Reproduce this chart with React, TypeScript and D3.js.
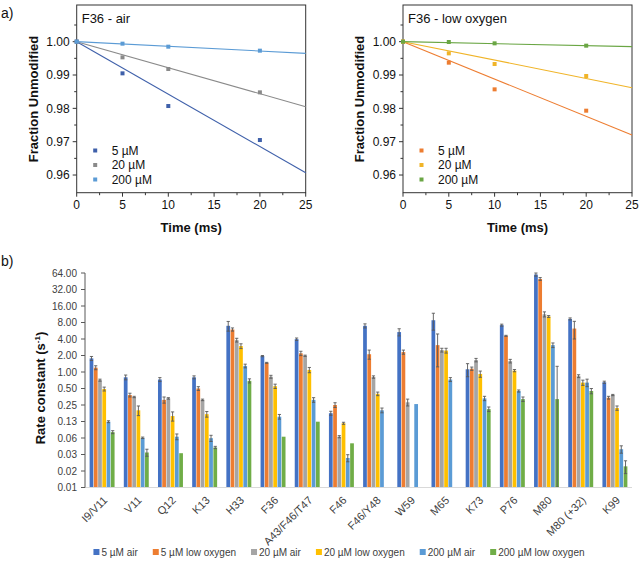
import React, { useEffect, useRef } from 'react';
import * as d3 from 'd3';

// ---- panel a data (fraction unmodified vs time) ----
const timeMs = [0, 5, 10, 20];
const concLabels = ['5 µM', '20 µM', '200 µM'];

const air5 = [1.0, 0.9905, 0.9807, 0.9705];
const air20 = [1.0, 0.9953, 0.9918, 0.9848];
const air200 = [1.0, 0.9994, 0.9985, 0.9973];
const airFitAt25 = [0.9607, 0.9805, 0.9965];

const low5 = [1.0, 0.9937, 0.9857, 0.9793];
const low20 = [1.0, 0.9965, 0.9933, 0.9897];
const low200 = [1.0, 0.9999, 0.9995, 0.9988];
const lowFitAt25 = [0.972, 0.9862, 0.9985];

const airColors = ['#3f60aa', '#8a8a8a', '#5b9bd5'];
const lowColors = ['#ed7d31', '#f0b428', '#6aa644'];

const fracTicks = [0.96, 0.97, 0.98, 0.99, 1.0];
const fracMinor = [0.965, 0.975, 0.985, 0.995, 1.005];
const timeTicks = [0, 5, 10, 15, 20, 25];
const timeMinor = [2.5, 7.5, 12.5, 17.5, 22.5];

// ---- panel b data (rate constants, s^-1) ----
const residues = ['I9/V11', 'V11', 'Q12', 'K13', 'H33', 'F36', 'A43/F46/T47', 'F46', 'F46/Y48', 'W59', 'M65', 'K73', 'P76', 'M80', 'M80 (+32)', 'K99'];
const seriesNames = ['5 µM air', '5 µM low oxygen', '20 µM air', '20 µM low oxygen', '200 µM air', '200 µM low oxygen'];
const barColors = ['#4472c4', '#ed7d31', '#a5a5a5', '#ffc000', '#5b9bd5', '#70ad47'];

const air5k = [1.77, 0.80, 0.73, 0.80, 6.96, 1.95, 3.97, 0.177, 6.96, 5.35, 8.8, 1.12, 7.16, 60, 9.3, 0.65];
const low5k = [1.2, 0.38, 0.31, 0.50, 5.97, 1.47, 2.19, 0.25, 2.11, 2.31, 3.09, 1.15, 4.57, 49.8, 6.2, 0.34];
const air20k = [0.71, 0.35, 0.33, 0.31, 3.82, 0.82, 1.98, 0.066, 0.81, 0.28, 2.51, 1.65, 1.58, 11.3, 0.84, 0.38];
const low20k = [0.49, 0.20, 0.157, 0.17, 2.97, 0.55, 1.09, 0.116, 0.40, null, 2.46, 0.92, 1.06, 10.3, 0.64, 0.22];
const air200k = [0.124, 0.063, 0.066, 0.062, 1.29, 0.153, 0.31, 0.027, 0.20, 0.26, 0.73, 0.33, 0.45, 3.09, 0.64, 0.039];
const low200k = [0.080, 0.034, 0.033, 0.042, 0.69, 0.066, 0.124, 0.050, null, null, null, 0.21, 0.32, 0.32, 0.45, 0.019];

const air5err = [0.15, 0.08, 0.06, 0.05, 1.4, 0.05, 0.2, 0.015, 0.6, 0.8, 3.0, 0.3, 0.3, 4, 0.4, 0.03];
const low5err = [0.1, 0.03, 0.04, 0.04, 0.4, 0.03, 0.2, 0.025, 0.4, 0.2, 1.85, 0.08, 0.1, 3, 2.2, 0.02];
const air20err = [0.03, 0.01, 0.01, 0.01, 0.3, 0.05, 0.05, 0.003, 0.04, 0.04, 0.2, 0.12, 0.12, 1.2, 0.05, 0.01];
const low20err = [0.04, 0.04, 0.03, 0.02, 0.3, 0.05, 0.12, 0.005, 0.03, 0, 0.25, 0.12, 0.05, 0.4, 0.07, 0.02];
const air200err = [0.005, 0.002, 0.008, 0.008, 0.1, 0.015, 0.03, 0.004, 0.02, 0, 0.06, 0.03, 0.02, 0.3, 0.1, 0.006];
const low200err = [0.005, 0.005, 0, 0.002, 0.06, 0, 0, 0, 0, 0, 0, 0.02, 0.03, 0.95, 0.05, 0.005];

const rateTicks = [64, 32, 16, 8, 4, 2, 1, 0.5, 0.25, 0.125, 0.0625, 0.03125, 0.015625, 0.0078125];
const rateTickLabels = ['64.00', '32.00', '16.00', '8.00', '4.00', '2.00', '1.00', '0.50', '0.25', '0.13', '0.06', '0.03', '0.02', '0.01'];

const FONT = 'Arial, "Liberation Sans", sans-serif';

const App = () => {
  const ref = useRef(null);

  useEffect(() => {
    const svg = d3.select(ref.current);
    svg.selectAll('*').remove();

    //---------- top panels ----------
    const drawPanel = (left, title, series, fitEnds, colors) => {
      const w = 229;
      const x = d3.scaleLinear().domain([0, 25]).range([left, left + w]);
      const y = d3.scaleLinear().domain([0.9547, 1.011]).range([192.7, 5]);
      const g = svg.append('g');

      g.append('rect')
        .attr('x', left).attr('y', 5)
        .attr('width', w).attr('height', 187.7)
        .attr('fill', 'none').attr('stroke', '#333').attr('stroke-width', 1);

      // y ticks
      g.selectAll('.ymaj').data(fracTicks).enter().append('line')
        .attr('x1', left - 4).attr('x2', left)
        .attr('y1', d => y(d)).attr('y2', d => y(d))
        .attr('stroke', '#333');
      g.selectAll('.ymin').data(fracMinor).enter().append('line')
        .attr('x1', left - 2.5).attr('x2', left)
        .attr('y1', d => y(d)).attr('y2', d => y(d))
        .attr('stroke', '#333');
      g.selectAll('.ylab').data(fracTicks).enter().append('text')
        .attr('x', left - 7).attr('y', d => y(d)).attr('dy', '0.36em')
        .attr('text-anchor', 'end')
        .style('font', `12px ${FONT}`).attr('fill', '#111')
        .text(d => d.toFixed(2));

      // x ticks
      g.selectAll('.xmaj').data(timeTicks).enter().append('line')
        .attr('x1', d => x(d)).attr('x2', d => x(d))
        .attr('y1', 192.7).attr('y2', 196.7)
        .attr('stroke', '#333');
      g.selectAll('.xmin').data(timeMinor).enter().append('line')
        .attr('x1', d => x(d)).attr('x2', d => x(d))
        .attr('y1', 192.7).attr('y2', 195.2)
        .attr('stroke', '#333');
      g.selectAll('.xlab').data(timeTicks).enter().append('text')
        .attr('x', d => x(d)).attr('y', 208.5)
        .attr('text-anchor', 'middle')
        .style('font', `12px ${FONT}`).attr('fill', '#111')
        .text(d => d);

      g.append('text')
        .attr('x', left + w / 2).attr('y', 232)
        .attr('text-anchor', 'middle')
        .style('font', `bold 13px ${FONT}`).attr('fill', '#111')
        .text('Time (ms)');
      g.append('text')
        .attr('transform', `translate(${left - 39},${99}) rotate(-90)`)
        .attr('text-anchor', 'middle')
        .style('font', `bold 13px ${FONT}`).attr('fill', '#111')
        .text('Fraction Unmodified');
      g.append('text')
        .attr('x', left + 5).attr('y', 22.5)
        .style('font', `13px ${FONT}`).attr('fill', '#111')
        .text(title);

      // fit lines and points
      series.forEach((vals, i) => {
        g.append('line')
          .attr('x1', x(0)).attr('y1', y(1))
          .attr('x2', x(25)).attr('y2', y(fitEnds[i]))
          .attr('stroke', colors[i]).attr('stroke-width', 1.1);
        g.selectAll(null).data(vals).enter().append('rect')
          .attr('x', (d, j) => x(timeMs[j]) - 2)
          .attr('y', d => y(d) - 2)
          .attr('width', 4).attr('height', 4)
          .attr('fill', colors[i]);
        // legend
        const ly = 150.5 + i * 14.5;
        g.append('rect')
          .attr('x', left + 16.5).attr('y', ly - 2)
          .attr('width', 4).attr('height', 4)
          .attr('fill', colors[i]);
        g.append('text')
          .attr('x', left + 35).attr('y', ly).attr('dy', '0.36em')
          .style('font', `12px ${FONT}`).attr('fill', '#111')
          .text(concLabels[i]);
      });
    };

    drawPanel(76.7, 'F36 - air', [air5, air20, air200], airFitAt25, airColors);
    drawPanel(403, 'F36 - low oxygen', [low5, low20, low200], lowFitAt25, lowColors);

    svg.append('text').attr('x', 1).attr('y', 18)
      .style('font', `14px ${FONT}`).attr('fill', '#111').text('a)');
    svg.append('text').attr('x', 1).attr('y', 266)
      .style('font', `14px ${FONT}`).attr('fill', '#111').text('b)');

    //---------- bar chart ----------
    const values = [air5k, low5k, air20k, low20k, air200k, low200k];
    const errs = [air5err, low5err, air20err, low20err, air200err, low200err];

    const x0 = d3.scaleBand().domain(residues).range([85, 632]).paddingInner(0.27).paddingOuter(0.135);
    const x1 = d3.scaleBand().domain(seriesNames).range([0, x0.bandwidth()]).paddingInner(0.12);
    const yk = d3.scaleLog().base(2).domain([0.0078125, 64]).range([487.5, 273]);

    const bars = svg.append('g');
    values.forEach((vals, si) => {
      vals.forEach((v, ci) => {
        if (v == null) return;
        const bx = x0(residues[ci]) + x1(seriesNames[si]);
        bars.append('rect')
          .attr('x', bx).attr('y', yk(v))
          .attr('width', x1.bandwidth()).attr('height', yk(0.0078125) - yk(v))
          .attr('fill', barColors[si]);
      });
    });
    values.forEach((vals, si) => {
      vals.forEach((v, ci) => {
        if (v == null) return;
        const e = errs[si][ci];
        if (!e) return;
        const cx = x0(residues[ci]) + x1(seriesNames[si]) + x1.bandwidth() / 2;
        const hi = yk(v + e);
        const lo = yk(Math.max(v - e, 0.0079));
        bars.append('line').attr('x1', cx).attr('x2', cx).attr('y1', hi).attr('y2', lo)
          .attr('stroke', '#595959').attr('stroke-width', 0.9);
        bars.append('line').attr('x1', cx - 1.6).attr('x2', cx + 1.6).attr('y1', hi).attr('y2', hi)
          .attr('stroke', '#595959').attr('stroke-width', 0.9);
        bars.append('line').attr('x1', cx - 1.6).attr('x2', cx + 1.6).attr('y1', lo).attr('y2', lo)
          .attr('stroke', '#595959').attr('stroke-width', 0.9);
      });
    });

    // baseline
    svg.append('line').attr('x1', 85).attr('x2', 632)
      .attr('y1', 487.5).attr('y2', 487.5)
      .attr('stroke', '#d9d9d9').attr('stroke-width', 1);

    // y axis
    const ya = svg.append('g');
    ya.append('line').attr('x1', 85).attr('x2', 85).attr('y1', 273).attr('y2', 487.5)
      .attr('stroke', '#595959');
    ya.selectAll('.t').data(rateTicks).enter().append('line')
      .attr('x1', 81).attr('x2', 85)
      .attr('y1', d => yk(d)).attr('y2', d => yk(d))
      .attr('stroke', '#595959');
    ya.selectAll('.l').data(rateTicks).enter().append('text')
      .attr('x', 77).attr('y', d => yk(d)).attr('dy', '0.35em')
      .attr('text-anchor', 'end')
      .style('font', `10px ${FONT}`).attr('fill', '#404040')
      .text((d, i) => rateTickLabels[i]);
    svg.append('text')
      .attr('transform', `translate(45,388) rotate(-90)`)
      .attr('text-anchor', 'middle')
      .style('font', `bold 13px ${FONT}`).attr('fill', '#111')
      .text('Rate constant (s')
      .append('tspan').attr('dy', -5).style('font-size', '8px').text('-1')
      .select(function () { return this.parentNode; })
      .append('tspan').attr('dy', 5).text(')');

    // x labels
    svg.selectAll('.xl').data(residues).enter().append('text')
      .attr('transform', d => `translate(${x0(d) + x0.bandwidth() / 2 + 6},${501}) rotate(-45)`)
      .attr('text-anchor', 'end')
      .style('font', `11px ${FONT}`).attr('fill', '#404040')
      .text(d => d);

    // legend
    const lg = svg.append('g');
    let lx = 0;
    seriesNames.forEach((name, i) => {
      const it = lg.append('g');
      it.append('rect').attr('x', 0).attr('y', -3).attr('width', 6).attr('height', 6).attr('fill', barColors[i]);
      const t = it.append('text').attr('x', 8).attr('y', 0).attr('dy', '0.35em')
        .style('font', `10px ${FONT}`).attr('fill', '#404040').text(name);
      const tw = t.node().getComputedTextLength();
      it.attr('transform', `translate(${lx},552)`);
      lx += 8 + tw + 15;
    });
    const total = lx - 15;
    lg.attr('transform', `translate(${339 - total / 2},0)`);
  }, []);

  return (
    <svg ref={ref} width={640} height={561}
      style={{ position: 'absolute', left: 0, top: 0, background: '#fff' }} />
  );
};

export default App;
